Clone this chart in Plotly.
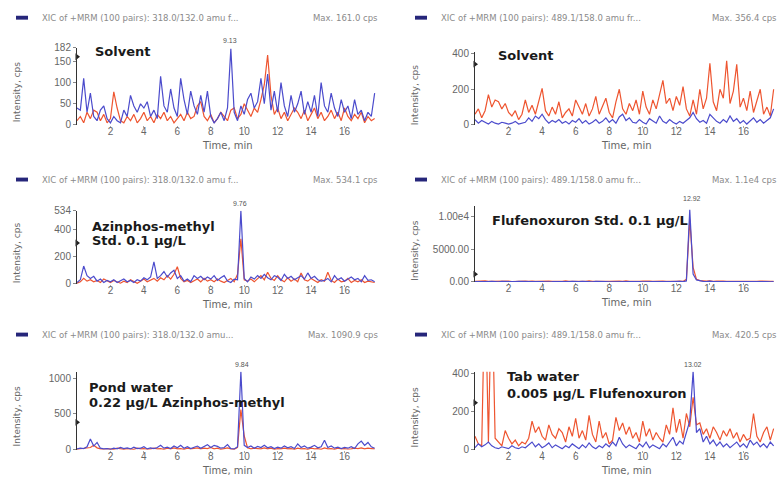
import plotly.graph_objects as go

# ---------------- data ----------------
time_min = [round(i * 0.2, 1) for i in range(90)]  # 0.0 .. 17.8 min

p1_blue = [40, 35, 110, 30, 75, 20, 10, 35, 45, 15, 5, 20, 10, 5, 35, 20, 70, 45, 30, 50,
           40, 55, 20, 35, 15, 115, 45, 30, 85, 40, 20, 110, 60, 25, 80, 45, 25, 70, 30, 80,
           20, 5, 15, 30, 10, 40, 180, 30, 10, 45, 25, 60, 75, 40, 55, 110, 50, 120, 35, 80,
           30, 100, 45, 20, 70, 30, 50, 80, 25, 55, 30, 70, 20, 100, 45, 30, 75, 40, 20, 60,
           30, 45, 15, 60, 25, 35, 10, 30, 20, 75]
p1_red = [10, 20, 5, 30, 15, 35, 30, 10, 25, 5, 15, 78, 40, 10, 5, 20, 10, 25, 5, 15,
          30, 10, 20, 5, 25, 15, 30, 10, 20, 5, 15, 25, 10, 30, 15, 20, 45, 55, 20, 10,
          25, 5, 15, 30, 20, 10, 35, 40, 15, 25, 50, 35, 20, 40, 30, 60, 95, 165, 70, 25,
          40, 15, 30, 10, 25, 40, 30, 15, 35, 10, 25, 40, 15, 30, 10, 20, 35, 15, 30, 10,
          40, 20, 10, 25, 15, 30, 5, 20, 10, 15]

p2_red = [60, 90, 40, 80, 170, 100, 140, 130, 90, 120, 70, 50, 80, 30, 60, 140, 70, 110, 60, 130,
          205, 80, 50, 100, 60, 130, 40, 70, 90, 50, 140, 100, 60, 120, 50, 90, 160, 60, 110, 150,
          70, 40, 130, 200, 90, 60, 120, 80, 140, 60, 190, 100, 60, 140, 90, 170, 250, 120, 150, 80,
          160, 110, 215, 90, 50, 140, 60, 200, 90, 150, 345, 130, 80, 200, 150, 360, 120, 190, 340, 100,
          150, 80, 190, 70, 130, 200, 60, 100, 50, 200]
p2_blue = [30, 10, 25, 15, 5, 20, 10, 5, 15, 10, 5, 10, 20, 5, 10, 15, 40, 20, 50, 35,
           60, 30, 10, 25, 15, 30, 10, 20, 5, 25, 15, 35, 10, 25, 5, 15, 30, 10, 20, 40,
           15, 30, 10, 45, 60, 25, 40, 15, 10, 30, 15, 5, 35, 20, 10, 50, 20, 10, 30, 15,
           5, 20, 10, 25, 40, 70, 35, 15, 25, 10, 60, 40, 20, 10, 30, 15, 50, 20, 35, 10,
           25, 5, 20, 40, 15, 30, 10, 25, 40, 90]

p3_blue = [10, 30, 130, 60, 40, 55, 20, 35, 10, 25, 15, 30, 10, 20, 35, 15, 25, 10, 30, 20,
           45, 30, 50, 160, 40, 60, 90, 50, 80, 100, 40, 60, 20, 35, 15, 60, 40, 55, 30, 50,
           35, 60, 25, 45, 60, 20, 10, 35, 30, 534, 40, 15, 50, 35, 60, 40, 70, 45, 30, 60,
           50, 25, 70, 40, 55, 30, 45, 60, 35, 80, 40, 55, 30, 20, 25, 40, 15, 60, 30, 45,
           20, 35, 50, 30, 40, 15, 60, 25, 30, 15]
p3_red = [5, 15, 40, 20, 30, 15, 25, 10, 35, 20, 10, 25, 15, 5, 20, 10, 30, 15, 5, 20,
          35, 15, 25, 40, 20, 45, 30, 60, 35, 70, 125, 40, 15, 25, 10, 20, 35, 15, 40, 20,
          30, 15, 35, 20, 10, 25, 40, 15, 70, 330, 30, 20, 35, 15, 40, 60, 30, 85, 40, 25,
          60, 30, 15, 45, 20, 35, 15, 80, 30, 20, 40, 25, 10, 30, 20, 85, 25, 10, 35, 15,
          20, 40, 10, 25, 15, 30, 10, 20, 15, 10]

p4_blue = [60, 40, 80, 30, 50, 90, 40, 20, 70, 50, 30, 60, 40, 90, 50, 30, 70, 40, 60, 100,
           50, 30, 80, 40, 60, 30, 90, 50, 40, 70, 30, 60, 80, 40, 50, 30, 70, 90, 40, 60,
           30, 50, 80, 40, 70, 30, 60, 40, 90, 50, 30, 70, 40, 60, 50, 80, 30, 60, 40, 70,
           50, 90, 40, 150, 11000, 1200, 300, 150, 90, 60, 120, 50, 40, 70, 30, 60, 50, 40, 80, 30,
           60, 40, 50, 70, 30, 60, 40, 50, 30, 60]
p4_red = [90, 120, 60, 150, 80, 100, 140, 70, 110, 90, 130, 60, 100, 150, 80, 120, 70, 140, 90, 110,
          160, 80, 120, 70, 140, 100, 80, 150, 90, 120, 70, 130, 100, 80, 150, 90, 120, 70, 140, 100,
          80, 130, 90, 120, 70, 150, 100, 80, 120, 90, 140, 70, 110, 90, 130, 80, 120, 100, 70, 140,
          90, 120, 80, 400, 9500, 2200, 400, 200, 150, 120, 180, 100, 140, 80, 120, 100, 90, 130, 80, 110,
          140, 90, 120, 80, 100, 130, 90, 110, 80, 100]

p5_blue = [10, 20, 15, 40, 150, 50, 100, 20, 10, 15, 5, 20, 10, 30, 15, 25, 10, 35, 15, 20,
           40, 10, 25, 15, 30, 60, 20, 35, 15, 50, 25, 60, 20, 40, 15, 35, 50, 20, 40, 70,
           30, 60, 45, 20, 30, 70, 15, 10, 40, 1090, 60, 30, 50, 20, 45, 30, 60, 25, 40, 15,
           35, 20, 50, 25, 40, 15, 80, 30, 50, 20, 35, 60, 25, 40, 130, 30, 50, 20, 35, 15,
           30, 20, 40, 15, 80, 120, 60, 100, 40, 20]
p5_red = [5, 10, 20, 15, 30, 60, 25, 10, 5, 15, 10, 5, 20, 10, 5, 15, 10, 5, 20, 10,
          15, 5, 10, 20, 10, 15, 5, 20, 10, 25, 10, 15, 5, 20, 10, 15, 25, 10, 20, 15,
          30, 10, 20, 5, 15, 25, 10, 5, 30, 560, 190, 25, 10, 20, 15, 10, 25, 10, 20, 5,
          15, 10, 20, 10, 15, 5, 20, 10, 15, 5, 20, 10, 15, 5, 25, 10, 15, 5, 20, 10,
          15, 5, 10, 20, 15, 25, 10, 20, 15, 10]

p6_red = [70, 30, 20, 900, 40, 900, 60, 40, 20, 100, 60, 30, 50, 20, 40, 30, 60, 150, 90, 120,
          70, 50, 130, 80, 60, 110, 90, 40, 120, 70, 165, 60, 100, 50, 180, 80, 40, 150, 60, 90,
          30, 50, 170, 100, 140, 80, 120, 60, 90, 40, 150, 70, 110, 50, 90, 60, 40, 130, 80, 220,
          90, 160, 60, 190, 120, 275, 130, 140, 80, 110, 60, 120, 90, 50, 100, 70, 110, 60, 90, 40,
          80, 50, 60, 190, 70, 40, 90, 120, 50, 110]
p6_blue = [10, 30, 15, 25, 40, 20, 10, 5, 15, 10, 5, 20, 10, 5, 15, 10, 25, 40, 15, 30,
           10, 20, 35, 10, 25, 15, 5, 20, 10, 30, 15, 5, 25, 10, 35, 15, 5, 20, 10, 30,
           15, 40, 20, 65, 30, 10, 25, 15, 5, 30, 15, 40, 10, 25, 15, 5, 30, 15, 40, 65,
           20, 45, 30, 85, 150, 410, 90, 110, 40, 70, 30, 50, 20, 40, 15, 30, 10, 25, 40, 15,
           30, 10, 50, 25, 40, 15, 30, 10, 40, 20]

title_lines = [["Solvent"], ["Solvent"], ["Azinphos-methyl", "Std. 0.1 \u00b5g/L"],
               ["Flufenoxuron Std. 0.1 \u00b5g/L"], ["Pond water", "0.22 \u00b5g/L Azinphos-methyl"],
               ["Tab water", "0.005 \u00b5g/L Flufenoxuron"]]
headers = ["XIC of +MRM (100 pairs): 318.0/132.0 amu f...",
           "XIC of +MRM (100 pairs): 489.1/158.0 amu fr...",
           "XIC of +MRM (100 pairs): 318.0/132.0 amu f...",
           "XIC of +MRM (100 pairs): 489.1/158.0 amu fr...",
           "XIC of +MRM (100 pairs): 318.0/132.0 amu...",
           "XIC of +MRM (100 pairs): 489.1/158.0 amu fr..."]
max_texts = ["Max. 161.0 cps", "Max. 356.4 cps", "Max. 534.1 cps",
             "Max. 1.1e4 cps", "Max. 1090.9 cps", "Max. 420.5 cps"]
peak_labels = ["9.13", None, "9.76", "12.92", "9.84", "13.02"]
peak_times = [9.13, None, 9.76, 12.92, 9.84, 13.02]
y_maxes = [182, 410, 534, 11600, 1090, 410]
y_tickvals = [[0, 50, 100, 150, 182], [0, 200, 400], [0, 200, 400, 534],
              [0, 5000, 10000], [0, 500, 1000], [0, 200, 400]]
y_ticktext = [["0", "50", "100", "150", "182"], ["0", "200", "400"],
              ["0", "200", "400", "534"], ["0.00", "5000.00", "1.00e4"],
              ["0", "500", "1000"], ["0", "200", "400"]]
marker_levels = [161, 341, 299, 1190, 381, 246]
x_ticks = [2, 4, 6, 8, 10, 12, 14, 16]

series = [(p1_blue, p1_red), (p2_blue, p2_red), (p3_blue, p3_red),
          (p4_blue, p4_red), (p5_blue, p5_red), (p6_blue, p6_red)]

# ---------------- layout geometry (pixels) ----------------
W, H = 783, 480
x_dom_px = [(77, 378), (475, 777)]
y_dom_px = [(43, 122), (47, 122), (210, 285), (205, 283), (375, 455), (375, 455)]
header_y = [12, 12, 178, 178, 337, 337]
title_pos = [(93, [47]), (496, [51]), (90, [226, 241]), (490, [220]),
             (87, [391, 407]), (505, [380, 397])]

BLUE = "#4b4bcc"
RED = "#ee5530"
GREY = "#666666"
FONT = "Liberation Sans, Arial, sans-serif"
WIDE = "DejaVu Sans, sans-serif"

fig = go.Figure()
layout = dict(width=W, height=H, margin=dict(l=0, r=0, t=0, b=0),
              paper_bgcolor="white", plot_bgcolor="white", showlegend=False,
              font=dict(family=FONT, color=GREY))
annotations = []
shapes = []


def px_x(p):
    return p / W


def px_y(p):
    return 1 - p / H


for i in range(6):
    col = i % 2
    n = "" if i == 0 else str(i + 1)
    xa, ya = "x" + n, "y" + n
    xl, xr = x_dom_px[col]
    yt, yb = y_dom_px[i]
    layout["xaxis" + n] = dict(domain=[px_x(xl), px_x(xr)], range=[0, 18], anchor=ya,
                               tickvals=x_ticks, ticks="outside", ticklen=2, tickcolor="#aaa",
                               ticklabelstandoff=-5,
                               showline=False, showgrid=False, zeroline=False,
                               tickfont=dict(size=10, color=GREY, family=FONT))
    layout["yaxis" + n] = dict(domain=[px_y(yb), px_y(yt)], range=[0, y_maxes[i]], anchor=xa,
                               tickvals=y_tickvals[i], ticktext=y_ticktext[i],
                               ticks="outside", ticklen=3, tickcolor="#888",
                               showline=True, linecolor="#333", linewidth=1,
                               showgrid=False, zeroline=False,
                               tickfont=dict(size=10, color=GREY, family=FONT))
    blue, red = series[i]
    fig.add_trace(go.Scatter(x=time_min, y=red, mode="lines", xaxis=xa, yaxis=ya,
                             line=dict(color=RED, width=1.2), hoverinfo="skip"))
    fig.add_trace(go.Scatter(x=time_min, y=blue, mode="lines", xaxis=xa, yaxis=ya,
                             line=dict(color=BLUE, width=1.2), hoverinfo="skip"))
    fig.add_trace(go.Scatter(x=[0], y=[marker_levels[i]], mode="markers", xaxis=xa, yaxis=ya,
                             marker=dict(symbol="triangle-right", size=6, color="#222"),
                             cliponaxis=False, hoverinfo="skip"))

    # header row
    sq_x0 = 16 if col == 0 else 415
    shapes.append(dict(type="rect", xref="paper", yref="paper",
                       x0=px_x(sq_x0), x1=px_x(sq_x0 + 12),
                       y0=px_y(header_y[i] + 2), y1=px_y(header_y[i] - 2),
                       fillcolor="#26267a", line=dict(width=0)))
    annotations.append(dict(xref="paper", yref="paper", x=px_x(sq_x0 + 24), y=px_y(header_y[i]),
                            text=headers[i], showarrow=False, xanchor="left", yanchor="middle",
                            font=dict(size=8.5, color="#8a8a8a", family=WIDE)))
    annotations.append(dict(xref="paper", yref="paper", x=px_x(xr + 2), y=px_y(header_y[i]),
                            text=max_texts[i], showarrow=False, xanchor="right", yanchor="middle",
                            font=dict(size=8.5, color="#8a8a8a", family=WIDE)))
    # axis titles
    annotations.append(dict(xref="paper", yref="paper", x=px_x((xl + xr) / 2), y=px_y(yb + 21),
                            text="Time, min", showarrow=False, xanchor="center", yanchor="middle",
                            font=dict(size=10, color=GREY, family=WIDE)))
    annotations.append(dict(xref="paper", yref="paper", x=px_x(xl - 60), y=px_y((yt + yb) / 2 + 6),
                            text="Intensity, cps", showarrow=False, textangle=-90,
                            xanchor="center", yanchor="middle",
                            font=dict(size=9, color=GREY, family=WIDE)))
    # peak label
    if peak_labels[i]:
        annotations.append(dict(xref=xa, yref="paper", x=peak_times[i], y=px_y(yt - 2),
                                text=peak_labels[i], showarrow=False, xanchor="center",
                                yanchor="bottom", font=dict(size=7, color="#555", family=FONT)))

    # sample title (bold)
    x0, ys = title_pos[i]
    for line, yc in zip(title_lines[i], ys):
        annotations.append(dict(xref="paper", yref="paper", x=px_x(x0), y=px_y(yc),
                                text="<b>" + line + "</b>", showarrow=False, xanchor="left",
                                yanchor="middle", align="left",
                                font=dict(size=13, color="#1a1a1a", family=WIDE)))

layout["annotations"] = annotations
layout["shapes"] = shapes
fig.update_layout(**layout)
fig.write_html("out.html")
